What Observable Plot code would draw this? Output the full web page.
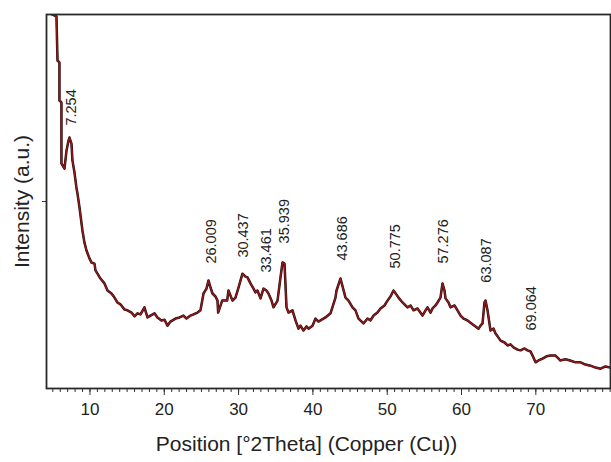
<!DOCTYPE html>
<html>
<head>
<meta charset="utf-8">
<script src="https://cdn.jsdelivr.net/npm/d3@7"></script>
<script src="https://cdn.jsdelivr.net/npm/@observablehq/plot@0.6"></script>
<style>
  html, body { margin: 0; padding: 0; background: #fff; }
</style>
</head>
<body>
<div id="chart"></div>
<script>
// 2θ positions (degrees) and intensities (a.u.)
const twoTheta = [4.95,5.49,5.63,5.89,5.89,6.16,6.16,6.57,6.84,7.11,7.24,7.51,7.64,7.91,8.18,8.32,8.59,8.99,9.26,9.53,9.93,10.20,10.61,10.74,11.01,11.41,11.95,12.36,12.89,13.30,13.70,14.10,14.64,15.05,15.59,15.99,16.39,16.80,17.33,17.74,18.14,18.68,19.08,19.62,20.03,20.43,20.83,21.51,22.05,22.58,22.99,23.53,23.93,24.47,24.87,25.28,25.68,25.95,26.22,26.49,26.89,27.16,27.25,27.79,28.46,28.64,29.18,29.58,29.99,30.52,30.93,31.20,31.60,32.01,32.27,32.54,32.95,33.35,33.75,34.02,34.43,34.70,35.24,35.64,35.91,36.18,36.45,36.72,37.25,37.66,38.06,38.33,38.73,39.14,39.41,39.95,40.35,40.75,41.02,41.70,42.37,43.04,43.18,43.71,44.39,44.79,45.33,45.73,46.14,46.81,47.35,47.75,48.16,48.69,49.10,49.64,50.04,50.44,50.85,51.25,51.52,52.06,52.73,53.14,53.54,54.08,54.75,55.16,55.42,55.83,56.10,56.50,56.77,57.17,57.44,57.71,57.85,58.25,58.52,59.06,59.46,59.87,60.27,60.81,61.21,61.75,62.29,62.56,62.83,63.09,63.23,63.50,63.90,64.31,64.58,64.98,65.25,65.79,66.19,66.59,67.00,67.54,67.94,68.48,68.88,69.29,69.56,69.96,70.36,70.90,71.44,71.98,72.65,73.06,73.28,74.00,74.62,75.34,76.02,76.69,77.36,78.04,78.71,79.38,80.05];
const intensity = [100,99.5,87.7,87.2,77.0,76.5,60.2,58.8,63.6,66.3,67.1,65.5,61.0,57.8,53.7,52.1,48.4,42.2,39.0,36.9,34.8,33.7,33.4,31.6,30.7,29.4,28.1,26.2,25.4,24.3,23.0,22.5,21.1,20.9,20.3,19.3,20.1,19.8,21.7,19.0,19.5,20.1,19.0,18.2,18.4,16.8,17.9,18.7,19.0,19.5,18.7,19.5,19.8,20.3,20.9,25.4,26.7,28.9,27.0,25.4,24.6,23.5,20.3,23.5,23.5,26.2,23.5,24.3,27.0,30.7,29.9,29.7,28.1,26.7,25.7,26.2,24.1,26.7,26.2,25.4,23.5,21.7,23.5,29.7,33.7,33.4,21.7,20.3,20.9,18.2,16.0,16.8,15.5,16.6,16.0,16.8,18.7,17.9,18.2,19.0,20.1,24.3,26.2,29.4,24.3,23.5,21.7,20.9,18.7,17.4,18.7,18.2,19.5,20.3,21.4,22.2,23.5,24.6,26.2,25.1,24.3,23.0,21.7,22.2,20.9,21.4,19.5,20.9,21.7,20.3,21.4,22.2,23.0,24.3,28.1,26.2,24.1,23.0,21.7,22.2,20.9,19.5,18.7,18.2,17.6,16.8,16.0,16.8,17.4,23.0,23.5,20.9,15.5,16.0,14.7,13.6,12.8,12.3,11.5,11.8,11.0,10.4,10.2,10.7,10.2,9.9,8.8,7.0,7.5,8.0,8.6,8.8,8.8,8.0,7.5,7.8,7.5,7.0,7.0,6.4,6.1,5.6,5.3,5.9,5.6];

// Peak annotations
const peakPositions = [7.254, 26.009, 30.437, 33.461, 35.939, 43.686, 50.775, 57.276, 63.087, 69.064];
const peakLabels = ["7.254", "26.009", "30.437", "33.461", "35.939", "43.686", "50.775", "57.276", "63.087", "69.064"];
const labelHeights = [70.3, 33.4, 35.0, 31.0, 38.8, 34.2, 32.1, 33.4, 28.3, 15.5];

const xMajorTicks = [10, 20, 30, 40, 50, 60, 70];
const xMinorTicks = d3.range(5, 81, 1);
const yTicks = [50];

const xLabel = "Position [°2Theta] (Copper (Cu))";
const yLabel = "Intensity (a.u.)";

const pattern = twoTheta.map((t, i) => ({t, v: intensity[i]}));
const peaks = peakPositions.map((p, i) => ({p, label: peakLabels[i], h: labelHeights[i]}));

const chart = Plot.plot({
  width: 611,
  height: 462,
  marginLeft: 46,
  marginRight: 1,
  marginTop: 14,
  marginBottom: 74,
  style: {
    fontFamily: "'Liberation Sans', Arial, sans-serif",
    fontSize: "17px",
    background: "#fff",
    color: "#222"
  },
  x: {domain: [4.15, 80.05]},
  y: {domain: [0, 100]},
  marks: [
    Plot.axisX({ticks: xMinorTicks, tickSize: 4, tickFormat: () => "", label: null, stroke: "#333"}),
    Plot.axisX({ticks: xMajorTicks, tickSize: 7, tickPadding: 7, tickFormat: d => String(d), label: null, fontSize: 17, stroke: "#333", fill: "#222"}),
    Plot.axisY({ticks: yTicks, tickSize: 4, tickFormat: () => "", label: null, stroke: "#333"}),
    Plot.line(pattern, {x: "t", y: "v", stroke: "#2a0808", strokeWidth: 2.5, clip: true}),
    Plot.line(pattern, {x: "t", y: "v", stroke: "#8a1a1c", strokeWidth: 1.5, clip: true}),
    Plot.text(peaks, {x: "p", y: "h", text: "label", rotate: -90, textAnchor: "start", lineAnchor: "middle", dx: 2, fontSize: 14.5, fill: "#222"}),
    Plot.frame({stroke: "#2a2a2a", strokeWidth: 1.8}),
    Plot.text([xLabel], {frameAnchor: "bottom", dx: -22, dy: 56, textAnchor: "middle", fontSize: 21, fill: "#222", lineAnchor: "middle"}),
    Plot.text([yLabel], {frameAnchor: "left", dx: -24, rotate: -90, textAnchor: "middle", fontSize: 21, fill: "#222", lineAnchor: "middle"})
  ]
});
document.getElementById("chart").appendChild(chart);
</script>
</body>
</html>
